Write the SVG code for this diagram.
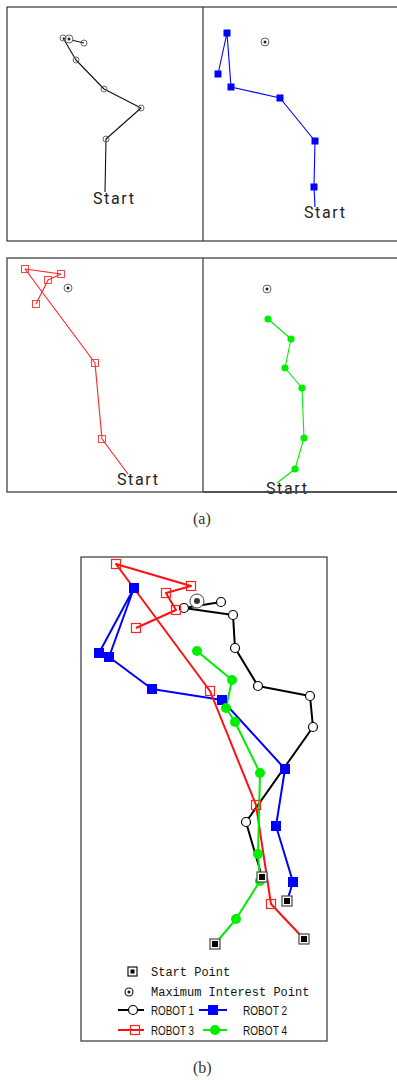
<svg xmlns="http://www.w3.org/2000/svg" xmlns:xlink="http://www.w3.org/1999/xlink" width="397" height="1080" viewBox="0 0 397 1080">
<style>
.frame{fill:none;stroke:#444;stroke-width:1.3}
.st{font-family:"Roboto","Liberation Sans",sans-serif;font-size:16px;letter-spacing:1.6px;fill:#222}
.lg{font-family:"Liberation Mono","DejaVu Sans Mono",monospace;font-size:12px;fill:#111}
.rb{font-family:"Liberation Sans","DejaVu Sans",sans-serif;font-size:13px;fill:#111}
.cap{font-family:"Liberation Serif",serif;font-size:16px;fill:#333}
.p1{fill:none;stroke-width:1.1;stroke-linejoin:round}
.p2{fill:none;stroke-width:2;stroke-linejoin:round}
</style>
<defs>
<g id="sc1"><circle r="3" fill="none" stroke="#555" stroke-width="0.9"/></g>
<g id="sb1"><rect x="-3.5" y="-3.5" width="7" height="7" fill="#0000ff"/></g>
<g id="sr1"><rect x="-3.5" y="-3.5" width="7" height="7" fill="none" stroke="#ff3030" stroke-width="0.9"/></g>
<g id="sg1"><circle r="3.6" fill="#00ee00"/></g>
<g id="mip1"><circle r="4" fill="#fff" stroke="#555" stroke-width="0.9"/><circle r="1.5" fill="#222"/></g>
<g id="sc2"><circle r="4.5" fill="#fff" stroke="#000" stroke-width="1.2"/></g>
<g id="sb2"><rect x="-5" y="-5" width="10" height="10" fill="#0000ff"/></g>
<g id="sr2"><rect x="-4.5" y="-4.5" width="9" height="9" fill="none" stroke="#ff2020" stroke-width="1.2"/></g>
<g id="sg2"><circle r="5" fill="#00ee00"/></g>
<g id="start2"><rect x="-5" y="-5" width="10" height="10" fill="#fff" stroke="#555" stroke-width="1.3"/><rect x="-3" y="-3" width="6" height="6" fill="#000"/></g>
<g id="mip2"><circle r="7" fill="#fff" stroke="#444" stroke-width="1"/><circle r="3" fill="#333"/></g>
</defs>

<!-- (a) top panels -->
<g id="panel-a-top">
<rect class="frame" x="7" y="7" width="396" height="234"/>
<line class="frame" x1="203" y1="7" x2="203" y2="241"/>
</g>
<g id="robot1-a">
<polyline class="p1" stroke="#111" points="105,192 106,139 141,108 104,89 76,60 63,38 84,43"/>
<use href="#mip1" x="69" y="39"/>
<use href="#sc1" x="63" y="38"/><use href="#sc1" x="84" y="43"/><use href="#sc1" x="76" y="60"/>
<use href="#sc1" x="104" y="89"/><use href="#sc1" x="141" y="108"/><use href="#sc1" x="106" y="139"/>
<text class="st" x="93" y="204">Start</text>
</g>
<g id="robot2-a">
<polyline class="p1" stroke="#0000ff" points="315,207 314,187 315,141 280,98 231,87 227,33 218,74"/>
<use href="#mip1" x="265" y="42"/>
<use href="#sb1" x="314" y="187"/><use href="#sb1" x="315" y="141"/><use href="#sb1" x="280" y="98"/>
<use href="#sb1" x="231" y="87"/><use href="#sb1" x="227" y="33"/><use href="#sb1" x="218" y="74"/>
<text class="st" x="304" y="218">Start</text>
</g>

<g id="panel-a-bottom">
<rect class="frame" x="7" y="258" width="396" height="234"/>
<line class="frame" x1="203" y1="258" x2="203" y2="492"/>
</g>
<g id="robot3-a">
<polyline class="p1" stroke="#ff2020" points="128,474 102,439 95,363 25,269 61,274 48,280 36,304"/>
<use href="#mip1" x="68" y="288"/>
<use href="#sr1" x="102" y="439"/><use href="#sr1" x="95" y="363"/><use href="#sr1" x="25" y="269"/>
<use href="#sr1" x="61" y="274"/><use href="#sr1" x="48" y="280"/><use href="#sr1" x="36" y="304"/>
<text class="st" x="117" y="485">Start</text>
</g>
<g id="robot4-a">
<polyline class="p1" stroke="#00ee00" points="277,483 295,469 304,438 302,388 285,368 291,339 268,319"/>
<use href="#mip1" x="267" y="289"/>
<use href="#sg1" x="295" y="469"/><use href="#sg1" x="304" y="438"/><use href="#sg1" x="302" y="388"/>
<use href="#sg1" x="285" y="368"/><use href="#sg1" x="291" y="339"/><use href="#sg1" x="268" y="319"/>
<text class="st" x="266" y="494">Start</text>
<line class="frame" x1="203" y1="492" x2="397" y2="492"/>
</g>
<text class="cap" x="193" y="524">(a)</text>

<!-- (b) combined panel -->
<g id="panel-b">
<rect class="frame" x="81" y="557" width="246" height="484"/>
</g>
<g id="connectors">
<polyline class="p2" stroke="#000" points="262,877 246,822 313,727 310,696 258,686 235,648 233,615 184,608 221,602"/>
<polyline class="p2" stroke="#0000ff" points="287,901 293,882 276,826 285,769 222,700 152,689 109,657 134,588 99,653"/>
<polyline class="p2" stroke="#ff1010" points="304,939 271,904 256,805 210,691 116,564 191,586 166,593 176,610 136,628"/>
<polyline class="p2" stroke="#00ee00" points="215,944 236,919 260,881 258,854 260,773 235,722 226,708 232,680 197,651"/>
</g>
<g id="mip-b"><use href="#mip2" x="197" y="601"/></g>
<g id="robot1-b">
<use href="#sc2" x="246" y="822"/><use href="#sc2" x="313" y="727"/><use href="#sc2" x="310" y="696"/>
<use href="#sc2" x="258" y="686"/><use href="#sc2" x="235" y="648"/><use href="#sc2" x="233" y="615"/>
<use href="#sc2" x="184" y="608"/><use href="#sc2" x="221" y="602"/>
</g>
<g id="robot2-b">
<use href="#sb2" x="293" y="882"/><use href="#sb2" x="276" y="826"/><use href="#sb2" x="285" y="769"/>
<use href="#sb2" x="222" y="700"/><use href="#sb2" x="152" y="689"/><use href="#sb2" x="109" y="657"/>
<use href="#sb2" x="134" y="588"/><use href="#sb2" x="99" y="653"/>
</g>
<g id="robot3-b">
<use href="#sr2" x="271" y="904"/><use href="#sr2" x="256" y="805"/><use href="#sr2" x="210" y="691"/>
<use href="#sr2" x="116" y="564"/><use href="#sr2" x="191" y="586"/><use href="#sr2" x="166" y="593"/>
<use href="#sr2" x="176" y="610"/><use href="#sr2" x="136" y="628"/>
</g>
<g id="robot4-b">
<use href="#sg2" x="236" y="919"/><use href="#sg2" x="260" y="881"/><use href="#sg2" x="258" y="854"/>
<use href="#sg2" x="260" y="773"/><use href="#sg2" x="235" y="722"/><use href="#sg2" x="226" y="708"/>
<use href="#sg2" x="232" y="680"/><use href="#sg2" x="197" y="651"/>
</g>
<g id="starts-b">
<use href="#start2" x="262" y="877"/><use href="#start2" x="287" y="901"/>
<use href="#start2" x="304" y="939"/><use href="#start2" x="215" y="944"/>
</g>
<g id="legend">
<rect x="128" y="967" width="9" height="9" fill="#fff" stroke="#111" stroke-width="1.2"/><rect x="130.5" y="969.5" width="4" height="4" fill="#000"/>
<text class="lg" x="151" y="976">Start Point</text>
<circle cx="129" cy="992" r="4" fill="#fff" stroke="#111" stroke-width="1.1"/><circle cx="129" cy="992" r="1.5" fill="#111"/>
<text class="lg" x="151" y="996">Maximum Interest Point</text>
<line x1="118" y1="1010" x2="144" y2="1010" stroke="#000" stroke-width="2"/>
<circle cx="133" cy="1010" r="4.5" fill="#fff" stroke="#000" stroke-width="1.2"/>
<text class="rb" x="151" y="1015" textLength="43" lengthAdjust="spacingAndGlyphs">ROBOT 1</text>
<line x1="199" y1="1010" x2="227" y2="1010" stroke="#0000ff" stroke-width="2"/>
<rect x="208" y="1005" width="10" height="10" fill="#0000ff"/>
<text class="rb" x="243" y="1015" textLength="44" lengthAdjust="spacingAndGlyphs">ROBOT 2</text>
<line x1="118" y1="1030" x2="144" y2="1030" stroke="#ff1010" stroke-width="2"/>
<rect x="130.5" y="1025.5" width="9" height="9" fill="none" stroke="#ff2020" stroke-width="1.2"/>
<text class="rb" x="151" y="1035" textLength="43" lengthAdjust="spacingAndGlyphs">ROBOT 3</text>
<line x1="203" y1="1030" x2="227" y2="1030" stroke="#00ee00" stroke-width="2"/>
<circle cx="215" cy="1030" r="5" fill="#00ee00"/>
<text class="rb" x="243" y="1035" textLength="44" lengthAdjust="spacingAndGlyphs">ROBOT 4</text>
</g>
<text class="cap" x="193" y="1073">(b)</text>
</svg>
